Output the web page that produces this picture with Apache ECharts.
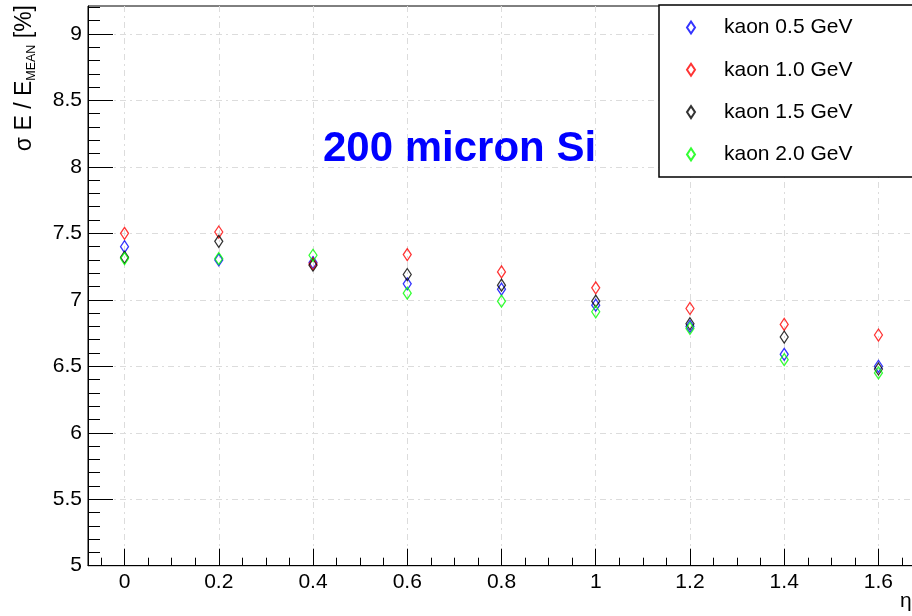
<!DOCTYPE html>
<html>
<head>
<meta charset="utf-8">
<title>Kaon energy resolution vs eta</title>
<script src="https://cdn.jsdelivr.net/npm/echarts@6/dist/echarts.min.js"></script>
<style>
  html, body { margin: 0; padding: 0; background: #fff; }
  #chart { width: 912px; height: 616px; }
</style>
</head>
<body>
<div id="chart"></div>
<script>
// pseudorapidity points
const ETA = [0, 0.2, 0.4, 0.6, 0.8, 1.0, 1.2, 1.4, 1.6];

// energy resolution sigma_E / E_mean [%] per kaon energy
const KAON_05 = [7.40, 7.30, 7.28, 7.12, 7.08, 6.96, 6.80, 6.59, 6.50];
const KAON_10 = [7.50, 7.51, 7.27, 7.34, 7.21, 7.09, 6.935, 6.815, 6.735];
const KAON_15 = [7.32, 7.44, 7.26, 7.19, 7.11, 6.99, 6.82, 6.72, 6.48];
const KAON_20 = [7.31, 7.31, 7.335, 7.05, 6.99, 6.91, 6.785, 6.55, 6.45];

const SERIES_NAMES = ['kaon 0.5 GeV', 'kaon 1.0 GeV', 'kaon 1.5 GeV', 'kaon 2.0 GeV'];
const SERIES_COLORS = ['#0000ff', '#ff0000', '#000000', '#00ff00'];
const SERIES_VALUES = [KAON_05, KAON_10, KAON_15, KAON_20];

// axis ticks
const X_TICKS = [0, 0.2, 0.4, 0.6, 0.8, 1, 1.2, 1.4, 1.6];
const Y_TICKS = [5, 5.5, 6, 6.5, 7, 7.5, 8, 8.5, 9];
const X_RANGE = [-0.0775, 1.72];
const Y_RANGE = [5, 9.21];

function minorTicks(start, stop, step, majors) {
  const out = [];
  for (let i = 0; start + i * step <= stop + 1e-9; i++) {
    const v = Math.round((start + i * step) * 1000) / 1000;
    if (!majors.some(m => Math.abs(m - v) < 1e-6)) out.push(v);
  }
  return out;
}
const X_MINOR = minorTicks(-0.05, 1.7, 0.05, X_TICKS);
const Y_MINOR = minorTicks(5.1, 9.2, 0.1, Y_TICKS);

const FONT = '"Liberation Sans", Arial, Helvetica, sans-serif';
const GRID_DASH = { color: '#dcdcdc', width: 1, type: [6, 4, 2, 4] };
const TICK_LINE = { color: '#000', width: 1 };

// value axis builder: one for the dashed grid (underneath), one for major ticks + labels,
// one for minor ticks
function gridAxis(range, ticks) {
  return {
    type: 'value', min: range[0], max: range[1], z: 0,
    axisLine: { show: false, onZero: false },
    axisTick: { show: false, customValues: ticks },
    axisLabel: { show: false },
    splitLine: { show: true, lineStyle: GRID_DASH }
  };
}
function majorAxis(range, ticks, len) {
  return {
    type: 'value', min: range[0], max: range[1], z: 1,
    axisLine: { show: true, onZero: false, lineStyle: TICK_LINE },
    axisTick: { show: true, inside: true, length: len, customValues: ticks, lineStyle: TICK_LINE },
    axisLabel: { show: true, customValues: ticks, margin: 6, color: '#000', fontSize: 21, fontFamily: FONT },
    splitLine: { show: false }
  };
}
function minorAxis(range, ticks, len) {
  return {
    type: 'value', min: range[0], max: range[1], z: 1,
    axisLine: { show: false, onZero: false },
    axisTick: { show: true, inside: true, length: len, customValues: ticks, lineStyle: TICK_LINE },
    axisLabel: { show: false },
    splitLine: { show: false }
  };
}

const chart = echarts.init(document.getElementById('chart'), null, { renderer: 'canvas' });

const option = {
  animation: false,
  backgroundColor: '#ffffff',
  grid: {
    left: 88, top: 6, right: -23, bottom: 50.3,
    containLabel: false, outerBoundsMode: 'none',
    show: true, borderColor: '#000', borderWidth: 1, backgroundColor: 'transparent'
  },
  xAxis: [
    Object.assign(majorAxis(X_RANGE, X_TICKS, 17), { position: 'bottom' }),
    Object.assign(gridAxis(X_RANGE, X_TICKS), { position: 'bottom' }),
    Object.assign(minorAxis(X_RANGE, X_MINOR, 8), { position: 'bottom' })
  ],
  yAxis: [
    Object.assign(majorAxis(Y_RANGE, Y_TICKS, 25), { position: 'left' }),
    Object.assign(gridAxis(Y_RANGE, Y_TICKS), { position: 'left' }),
    Object.assign(minorAxis(Y_RANGE, Y_MINOR, 12), { position: 'left' })
  ],
  legend: {
    orient: 'vertical', left: 659, top: 5,
    padding: [12, 80, 12, 27],
    itemWidth: 8, itemHeight: 12, itemGap: 21.3,
    backgroundColor: '#fff', borderColor: '#000', borderWidth: 1.5, borderRadius: 0,
    selectedMode: false,
    data: SERIES_NAMES,
    formatter: name => '{g|}' + name,
    textStyle: {
      color: '#000', fontSize: 21, fontFamily: FONT,
      rich: { g: { width: 24 } }
    }
  },
  graphic: [
    {
      type: 'text', x: 323, y: 149,
      style: {
        text: '200 micron Si', fill: '#0000ff',
        font: 'bold 42px ' + FONT, align: 'left', verticalAlign: 'middle'
      }
    },
    {
      type: 'text', x: 900, y: 601.5,
      style: { text: 'η', fill: '#000', font: '21px ' + FONT, align: 'left', verticalAlign: 'middle' }
    },
    {
      type: 'text', x: 24.5, y: 5, rotation: Math.PI / 2,
      style: {
        text: '{m|σ E / E}{s|MEAN}{m| [%]}',
        fill: '#000', align: 'right', verticalAlign: 'middle',
        rich: {
          m: { fontSize: 23, lineHeight: 23, verticalAlign: 'top', fontFamily: FONT, fill: '#000' },
          s: { fontSize: 12.5, lineHeight: 12, verticalAlign: 'top', padding: [12.5, 0, 0, 0], fontFamily: FONT, fill: '#000' }
        }
      }
    }
  ],
  series: SERIES_NAMES.map((name, i) => ({
    name: name,
    type: 'scatter',
    xAxisIndex: 0, yAxisIndex: 0,
    symbol: 'diamond',
    symbolSize: [8, 12],
    data: ETA.map((x, j) => [x, SERIES_VALUES[i][j]]),
    itemStyle: { color: 'rgba(0,0,0,0)', borderColor: SERIES_COLORS[i], borderWidth: 1.3 },
    emphasis: { disabled: true },
    z: 2 + i
  }))
};

chart.setOption(option);
</script>
</body>
</html>
